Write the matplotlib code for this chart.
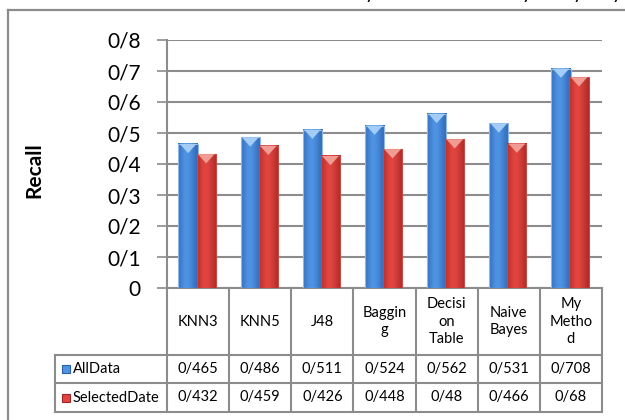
import numpy as np
import matplotlib.pyplot as plt
from matplotlib.patches import Polygon, Rectangle
from matplotlib.colors import to_rgb

plt.rcParams['font.family'] = ['Lato', 'DejaVu Sans']

methods = ["KNN3", "KNN5", "J48", "Baggin\ng", "Decisi\non\nTable", "Naive\nBayes", "My\nMetho\nd"]
series_names = ["AllData", "SelectedDate"]
all_data = [0.465, 0.486, 0.511, 0.524, 0.562, 0.531, 0.708]
selected_data = [0.432, 0.459, 0.426, 0.448, 0.48, 0.466, 0.68]
y_ticks = [0, 0.1, 0.2, 0.3, 0.4, 0.5, 0.6, 0.7, 0.8]


def fa(v):
    # decimal point written as "/"
    return f"{v:g}".replace(".", "/")


W, H = 625, 420
fig = plt.figure(figsize=(W / 100, H / 100), dpi=100)

# overlay in pixel coordinates for frame and data table
ov = fig.add_axes([0, 0, 1, 1])
ov.set_xlim(0, W)
ov.set_ylim(H, 0)
ov.axis('off')

grey = '#8c8c8c'
ov.plot([8, 8], [10, H + 5], color=grey, lw=1.6)
ov.plot([8, W + 5], [10, 10], color=grey, lw=1.6)

ax_l, ax_r, ax_t, ax_b = 167, 602, 40, 288
ax = fig.add_axes([ax_l / W, (H - ax_b) / H, (ax_r - ax_l) / W, (ax_b - ax_t) / H])
ax.patch.set_alpha(0)

n = len(methods)
bw = 0.31
offs = [-0.16, 0.13]
styles = [
    dict(dark='#2a60ad', light='#4f93e3', top='#a3cdf6', edge='#8fb8e8'),
    dict(dark='#a32624', light='#e2453f', top='#f09c94', edge='#c84a44'),
]

for s, vals in enumerate([all_data, selected_data]):
    st = styles[s]
    dk, lt = np.array(to_rgb(st['dark'])), np.array(to_rgb(st['light']))
    t = np.linspace(0, 1, 40)
    w = np.interp(t, [0, 0.35, 0.55, 1], [0.35, 1.0, 0.95, 0.15])
    grad = (dk[None, :] * (1 - w[:, None]) + lt[None, :] * w[:, None])[None, :, :]
    for i, v in enumerate(vals):
        x0 = i + offs[s] - bw / 2
        x1 = x0 + bw
        ax.imshow(grad, extent=(x0, x1, 0, v), aspect='auto', zorder=3 + s,
                  interpolation='bilinear')
        ax.add_patch(Rectangle((x0, 0), bw, v, fill=False, ec=st['edge'], lw=0.8, zorder=3 + s))
        d = 0.03
        ax.add_patch(Polygon([(x0 + 0.02, v), (x1 - 0.02, v), ((x0 + x1) / 2, v - d)],
                             closed=True, fc=st['top'], ec='none', zorder=3 + s))

ax.set_xlim(-0.5, n - 0.5)
ax.set_ylim(0, 0.8)
ax.set_yticks(y_ticks)
ax.set_yticklabels([fa(v) if v else "0" for v in y_ticks], fontsize=15)
ax.yaxis.grid(True, color=grey, lw=1.5)
ax.set_axisbelow(True)
ax.set_xticks([])
ax.tick_params(axis='y', length=7, color=grey, width=1.2, pad=12)
for sp in ['top', 'right']:
    ax.spines[sp].set_visible(False)
ax.spines['left'].set_color(grey)
ax.spines['left'].set_linewidth(1.5)
ax.spines['bottom'].set_color(grey)
ax.spines['bottom'].set_linewidth(1.5)

ov.text(34, 170, "Recall", rotation=90, ha='center', va='center', fontsize=15,
        fontweight='bold')

# data table under the chart
col_w = (ax_r - ax_l) / n
rows = [288, 355, 383, 412]
lbl_l = 55
for y in rows[1:]:
    ov.plot([lbl_l, ax_r], [y, y], color=grey, lw=1.5)
ov.plot([lbl_l, lbl_l], [rows[1], rows[3]], color=grey, lw=1.5)
for k in range(n + 1):
    x = ax_l + k * col_w
    ov.plot([x, x], [rows[0], rows[3]], color=grey, lw=1.5)

for i, m in enumerate(methods):
    xc = ax_l + (i + 0.5) * col_w
    ov.text(xc, (rows[0] + rows[1]) / 2, m, ha='center', va='center', fontsize=10.5,
            linespacing=1.3)
    ov.text(xc, (rows[1] + rows[2]) / 2, fa(all_data[i]), ha='center', va='center', fontsize=10.5)
    ov.text(xc, (rows[2] + rows[3]) / 2, fa(selected_data[i]), ha='center', va='center', fontsize=10.5)

for r, (name, st) in enumerate(zip(series_names, styles)):
    yc = (rows[1 + r] + rows[2 + r]) / 2
    ov.add_patch(Rectangle((62, yc - 4), 8, 8, fc=st['light'], ec=st['dark'], lw=0.8))
    ov.text(73, yc, name, ha='left', va='center', fontsize=10.5)

# descenders of the heading line above the frame
for x in [370, 527, 578, 617]:
    ov.text(x, -1, "y", ha='center', va='baseline', fontsize=14)

fig.savefig("out.png", dpi=100)
